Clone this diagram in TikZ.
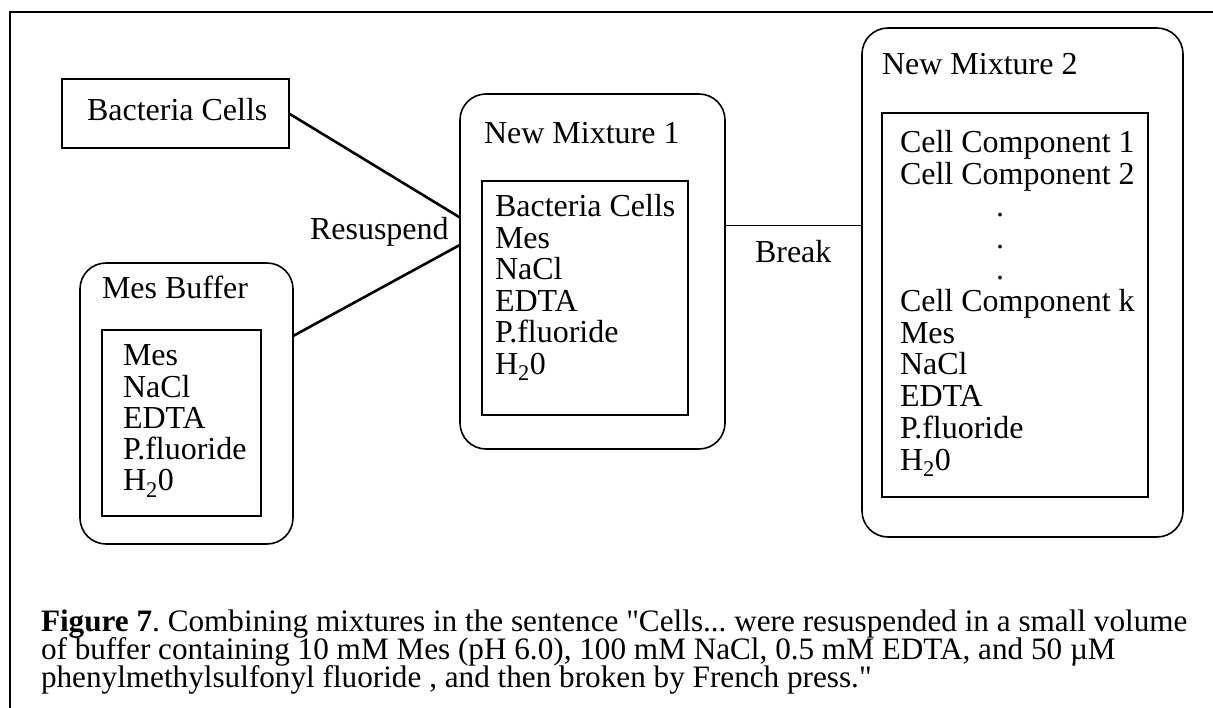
\documentclass[tikz,border=0pt]{standalone}
\usepackage{fontspec}
\setmainfont{Liberation Serif}
\newfontfamily\straightfont{Liberation Serif}[Ligatures=TeXOff]
\usetikzlibrary{calc}
\newcommand{\qq}{{\straightfont\symbol{34}}}
\begin{document}
\begin{tikzpicture}[x=1pt,y=-1pt,
  every node/.style={inner sep=0pt, outer sep=0pt},
  txt/.style={font=\fontsize{32}{32}\selectfont, anchor=base west},
  captxt/.style={font=\fontsize{31.2}{28}\selectfont\frenchspacing, anchor=base west},
  rbox/.style={draw, line width=1.6pt, rounded corners=26pt, anchor=north west},
  ibox/.style={draw, line width=1.4pt, anchor=north west},
  link/.style={line width=2.6pt},
  thinlink/.style={line width=1.4pt}]
\useasboundingbox (0,0) rectangle (1213,708);

% open frame: top and left rules
\coordinate (frameTR) at (1213,12);
\coordinate (frameTL) at (10,12);
\coordinate (frameBL) at (10,708);
\draw[line width=2pt] (frameTR) -- (frameTL) -- (frameBL);

% Bacteria Cells
\node[ibox, minimum width=227pt, minimum height=69pt] (bc) at (62,79) {};
\node[txt] (bct) at (87,121) {Bacteria Cells};

% Mes Buffer
\node[rbox, minimum width=213pt, minimum height=281pt] (mb) at (80,263) {};
\node[txt] (mbt) at (102,299) {Mes Buffer};
\node[ibox, minimum width=159pt, minimum height=186pt] (mbi) at (102,330) {};
\foreach \t [count=\i from 0] in {Mes,NaCl,EDTA,P.fluoride,H\textsubscript{2}0}
  \node[txt] (mb-\i) at (123,366+31.2*\i) {\t};

% New Mixture 1
\node[rbox, minimum width=265pt, minimum height=355pt] (nm1) at (460,94) {};
\node[txt] (nm1t) at (484,144) {New Mixture 1};
\node[ibox, minimum width=206pt, minimum height=234pt] (nm1i) at (482,181) {};
\foreach \t [count=\i from 0] in {Bacteria Cells,Mes,NaCl,EDTA,P.fluoride,H\textsubscript{2}0}
  \node[txt] (nm1-\i) at (495,217+31.5*\i) {\t};

% New Mixture 2
\node[rbox, minimum width=321pt, minimum height=509pt] (nm2) at (862,28) {};
\node[txt] (nm2t) at (882,75) {New Mixture 2};
\node[ibox, minimum width=266pt, minimum height=384pt] (nm2i) at (882,113) {};
\foreach \t [count=\i from 0] in {Cell Component 1,Cell Component 2}
  \node[txt] (nm2-\i) at (900,153+31.7*\i) {\t};
\foreach \i in {2,3,4}
  \node[txt, anchor=base] (nm2-\i) at (1000,153+31.7*\i) {.};
\foreach \t [count=\i from 5] in {Cell Component k,Mes,NaCl,EDTA,P.fluoride,H\textsubscript{2}0}
  \node[txt] (nm2-\i) at (900,153+31.7*\i) {\t};

% connectors
\draw[link] (bc.east) -- ($(nm1.north west)!0.348!(nm1.south west)$);
\draw[link] ($(mb.north east)!0.26!(mb.south east)$) -- ($(nm1.north west)!0.425!(nm1.south west)$);
\coordinate (brk) at ($(nm1.north east)!0.37!(nm1.south east)$);
\draw[thinlink] (brk) -- (brk -| nm2.west);

\node[txt] (res) at (310,240) {Resuspend};
\node[txt] (brkt) at (755,263) {Break};

% caption
\node[captxt] (c1) at (41,631) {\textbf{Figure 7}. Combining mixtures in the sentence \qq Cells... were resuspended in a small volume};
\node[captxt] (c2) at (41,659) {of buffer containing 10 mM Mes (pH 6.0), 100 mM NaCl, 0.5 mM EDTA, and 50 µM};
\node[captxt] (c3) at (41,687) {phenylmethylsulfonyl fluoride , and then broken by French press.\qq};
\end{tikzpicture}
\end{document}
